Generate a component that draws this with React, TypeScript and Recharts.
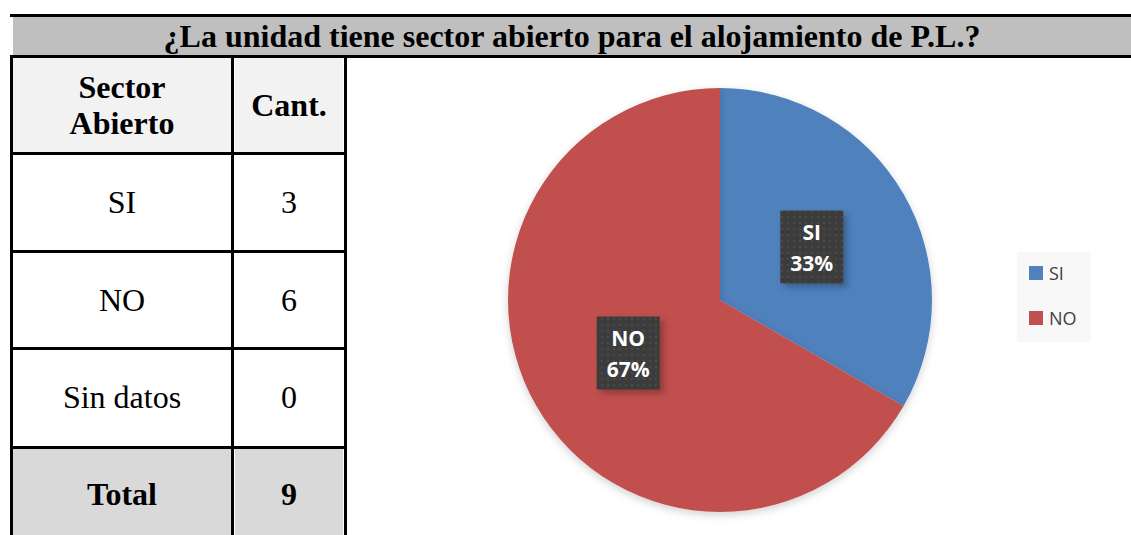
import { PieChart, Pie, Cell, Legend } from 'recharts';

const TITLE = '¿La unidad tiene sector abierto para el alojamiento de P.L.?';
const HEADERS = ['Sector\nAbierto', 'Cant.'];
const CATEGORIES = ['SI', 'NO', 'Sin datos'];
const COUNTS = [3, 6, 0];
const TOTAL_LABEL = 'Total';
const COLORS = ['#4F81BD', '#C0504D'];

const pieData = CATEGORIES.map((name, i) => ({ name, value: COUNTS[i] })).filter((d) => d.value > 0);
const total = COUNTS.reduce((a, b) => a + b, 0);

const RAD = Math.PI / 180;
const serif = '"Liberation Serif", "Times New Roman", serif';
const sans = '"Open Sans", "Noto Sans", sans-serif';

function renderLabel(props: any) {
  const { cx, cy, midAngle, outerRadius, name, percent } = props;
  const r = outerRadius * 0.5;
  const x = cx + r * Math.cos(-midAngle * RAD);
  const y = cy + r * Math.sin(-midAngle * RAD);
  const w = 63;
  const h = 73;
  return (
    <g>
      <rect x={x - w / 2 + 4} y={y - h / 2 + 4} width={w} height={h} fill="rgba(0,0,0,0.25)" filter="url(#blur)" />
      <rect x={x - w / 2} y={y - h / 2} width={w} height={h} fill="url(#dots)" />
      <text x={x} y={y - 15} fill="#fff" textAnchor="middle" dominantBaseline="central" fontFamily={sans} fontWeight={700} fontSize={21}>
        {name}
      </text>
      <text x={x} y={y + 16} fill="#fff" textAnchor="middle" dominantBaseline="central" fontFamily={sans} fontWeight={700} fontSize={21}>
        {`${Math.round(percent * 100)}%`}
      </text>
    </g>
  );
}

function LegendBox() {
  return (
    <div style={{ background: '#F8F8F8', width: 74, height: 90, paddingTop: 9, boxSizing: 'border-box' }}>
      {pieData.map((d, i) => (
        <div key={d.name} style={{ display: 'flex', alignItems: 'center', height: 24, marginBottom: 21, paddingLeft: 12, fontFamily: sans, fontSize: 18, color: '#404040' }}>
          <span style={{ width: 14, height: 14, background: COLORS[i], marginRight: 6, display: 'inline-block' }} />
          {d.name}
        </div>
      ))}
    </div>
  );
}

const LINE = '#000';
const FS = 32;

export default function App() {
  const rowTops = [155, 253, 350];
  return (
    <div style={{ position: 'absolute', left: 0, top: 0, width: 1131, height: 535, background: '#fff', overflow: 'hidden' }}>
      {/* title bar */}
      <div style={{ position: 'absolute', left: 10, top: 14, width: 1121, height: 3, background: LINE }} />
      <div style={{ position: 'absolute', left: 13, top: 17, width: 1118, height: 38, background: '#BFBFBF', fontFamily: serif, fontWeight: 700, fontSize: FS, display: 'flex', alignItems: 'center', justifyContent: 'center', paddingTop: 1, boxSizing: 'border-box' }}>
        {TITLE}
      </div>
      <div style={{ position: 'absolute', left: 10, top: 55, width: 1121, height: 3, background: LINE }} />
      {/* header row */}
      <div style={{ position: 'absolute', left: 13, top: 58, width: 218, height: 94, background: '#F2F2F2', fontFamily: serif, fontWeight: 700, fontSize: FS, lineHeight: '36px', display: 'flex', alignItems: 'center', justifyContent: 'center', textAlign: 'center', whiteSpace: 'pre-line' }}>
        {HEADERS[0]}
      </div>
      <div style={{ position: 'absolute', left: 235, top: 58, width: 108, height: 94, background: '#F2F2F2', fontFamily: serif, fontWeight: 700, fontSize: FS, display: 'flex', alignItems: 'center', justifyContent: 'center' }}>
        {HEADERS[1]}
      </div>
      {/* body rows */}
      {CATEGORIES.map((c, i) => (
        <div key={c}>
          <div style={{ position: 'absolute', left: 13, top: rowTops[i], width: 218, height: 95, fontFamily: serif, fontSize: FS, display: 'flex', alignItems: 'center', justifyContent: 'center' }}>
            {c}
          </div>
          <div style={{ position: 'absolute', left: 235, top: rowTops[i], width: 108, height: 95, fontFamily: serif, fontSize: FS, display: 'flex', alignItems: 'center', justifyContent: 'center' }}>
            {COUNTS[i]}
          </div>
        </div>
      ))}
      {/* total row */}
      <div style={{ position: 'absolute', left: 13, top: 449, width: 218, height: 86, background: '#D9D9D9', fontFamily: serif, fontWeight: 700, fontSize: FS, display: 'flex', alignItems: 'center', justifyContent: 'center', paddingTop: 4, boxSizing: 'border-box' }}>
        {TOTAL_LABEL}
      </div>
      <div style={{ position: 'absolute', left: 235, top: 449, width: 108, height: 86, background: '#D9D9D9', fontFamily: serif, fontWeight: 700, fontSize: FS, display: 'flex', alignItems: 'center', justifyContent: 'center', paddingTop: 4, boxSizing: 'border-box' }}>
        {total}
      </div>
      {/* horizontal lines */}
      {[152, 250, 347, 446].map((y) => (
        <div key={y} style={{ position: 'absolute', left: 10, top: y, width: 337, height: 3, background: LINE }} />
      ))}
      {/* vertical lines */}
      {[10, 231, 344].map((x) => (
        <div key={x} style={{ position: 'absolute', left: x, top: 55, width: 3, height: 480, background: LINE }} />
      ))}
      {/* chart */}
      <div style={{ position: 'absolute', left: 347, top: 58 }}>
        <PieChart width={784} height={477} margin={{ top: 0, right: 0, bottom: 0, left: 0 }}>
          <defs>
            <pattern id="dots" width="6" height="6" patternUnits="userSpaceOnUse">
              <rect width="6" height="6" fill="#3C3C3C" />
              <rect x="2" y="2" width="2" height="2" fill="#4A4A4A" />
            </pattern>
            <filter id="blur" x="-20%" y="-20%" width="140%" height="140%">
              <feGaussianBlur stdDeviation="3" />
            </filter>
            <filter id="pieShadow" x="-10%" y="-10%" width="120%" height="120%">
              <feDropShadow dx="0" dy="3" stdDeviation="4" floodColor="#000" floodOpacity="0.18" />
            </filter>
          </defs>
          <Pie
            data={pieData}
            dataKey="value"
            nameKey="name"
            cx={373}
            cy={242}
            outerRadius={212}
            startAngle={90}
            endAngle={-270}
            stroke="none"
            label={renderLabel}
            labelLine={false}
            isAnimationActive={false}
            style={{ filter: 'url(#pieShadow)' }}
          >
            {pieData.map((d, i) => (
              <Cell key={d.name} fill={COLORS[i]} />
            ))}
          </Pie>
          <Legend
            layout="vertical"
            align="right"
            verticalAlign="top"
            wrapperStyle={{ left: 670, top: 194, width: 74 }}
            content={() => <LegendBox />}
          />
        </PieChart>
      </div>
    </div>
  );
}
